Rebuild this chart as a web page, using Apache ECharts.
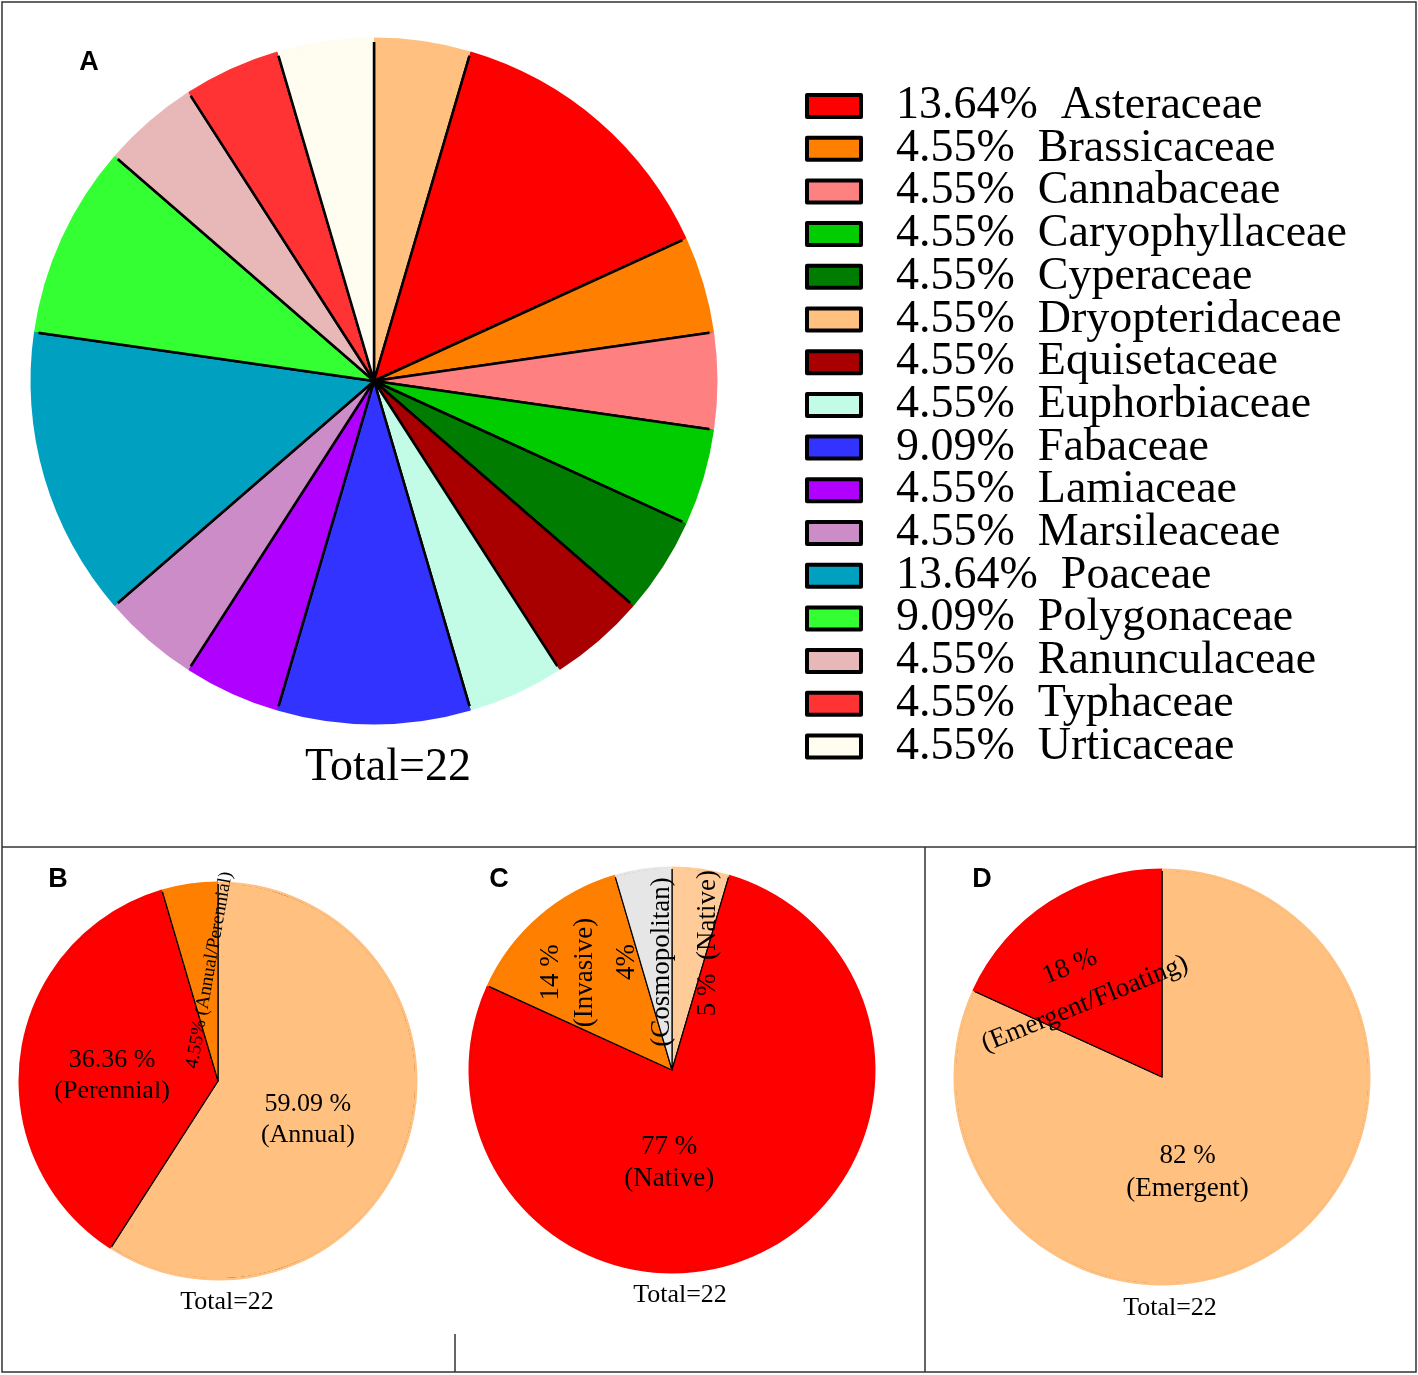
<!DOCTYPE html>
<html>
<head>
<meta charset="utf-8">
<script src="https://cdn.jsdelivr.net/npm/echarts@6.0.0/dist/echarts.min.js"></script>
<style>
  html, body { margin: 0; padding: 0; background: #fff; }
  #main { width: 1418px; height: 1375px; }
</style>
</head>
<body>
<div id="main"></div>
<script>
// A - families, in pie order (clockwise from 12 o'clock)
var familyNames = ['Dryopteridaceae', 'Asteraceae', 'Brassicaceae', 'Cannabaceae', 'Caryophyllaceae',
  'Cyperaceae', 'Equisetaceae', 'Euphorbiaceae', 'Fabaceae', 'Lamiaceae', 'Marsileaceae',
  'Poaceae', 'Polygonaceae', 'Ranunculaceae', 'Typhaceae', 'Urticaceae'];
var familyCounts = [1, 3, 1, 1, 1, 1, 1, 1, 2, 1, 1, 3, 2, 1, 1, 1];
var familyColors = ['#ffc080', '#ff0000', '#ff8000', '#ff8080', '#00cc00',
  '#007c00', '#a80000', '#c2fbe6', '#3333ff', '#b000ff', '#cc8cc8',
  '#00a0c0', '#33ff33', '#e8b8b8', '#ff3333', '#fffdf0'];
// legend is alphabetical
var legendOrder = ['Asteraceae', 'Brassicaceae', 'Cannabaceae', 'Caryophyllaceae', 'Cyperaceae',
  'Dryopteridaceae', 'Equisetaceae', 'Euphorbiaceae', 'Fabaceae', 'Lamiaceae', 'Marsileaceae',
  'Poaceae', 'Polygonaceae', 'Ranunculaceae', 'Typhaceae', 'Urticaceae'];

// B - life span
var lifeNames = ['Annual', 'Perennial', 'Annual/Perennial'];
var lifeCounts = [13, 8, 1];
var lifeLabels = ['59.09 %\n(Annual)', '36.36 %\n(Perennial)', '4.55% (Annual/Perennial)'];
var lifeColors = ['#ffc080', '#ff0000', '#ff8000'];

// C - origin
var originNames = ['Native (5%)', 'Native', 'Invasive', 'Cosmopolitan'];
var originCounts = [1, 17, 3, 1];
var originLabels = ['5 %  (Native)', '77 %\n(Native)', '14 %\n(Invasive)', '4%\n(Cosmopolitan)'];
var originColors = ['#ffcc99', '#ff0000', '#ff8000', '#e6e6e6'];

// D - habit
var habitNames = ['Emergent', 'Emergent/Floating'];
var habitCounts = [18, 4];
var habitLabels = ['82 %\n(Emergent)', '18 %\n(Emergent/Floating)'];
var habitColors = ['#ffc080', '#ff0000'];

var SERIF = '"Liberation Serif", "Times New Roman", serif';
var SANS = '"Liberation Sans", Arial, sans-serif';

// label tweaks: rotation, font, on-screen shift from the default inside position
var lifeLabelStyle = [
  { rotate: 0, size: 26, lh: 31, dx: -8, dy: 10 },
  { rotate: 0, size: 26, lh: 31, dx: -5, dy: 9 },
  { rotate: 80, size: 19, lh: 20, dx: 6, dy: -10 }
];
var originLabelStyle = [
  { rotate: 90, size: 27, lh: 32, dx: 21, dy: -24 },
  { rotate: 0, size: 27, lh: 32, dx: -46, dy: -2 },
  { rotate: 90, size: 27, lh: 34, dx: -36, dy: -19 },
  { rotate: 90, size: 27, lh: 35, dx: -13, dy: -5 }
];
var habitLabelStyle = [
  { rotate: 0, size: 27, lh: 33, dx: -32, dy: 6 },
  { rotate: 22, size: 27, lh: 40, dx: -27, dy: -2 }
];

function total(arr) {
  return arr.reduce(function (a, b) { return a + b; }, 0);
}

function pieSeries(names, counts, colors, center, radius, border, labels, labelStyle) {
  var data = names.map(function (n, i) {
    var item = { name: n, value: counts[i], itemStyle: { color: colors[i] } };
    if (labels) {
      var s = labelStyle[i];
      item.label = { formatter: labels[i], rotate: s.rotate, fontSize: s.size, lineHeight: s.lh };
    }
    return item;
  });
  return {
    type: 'pie',
    center: center,
    radius: radius,
    startAngle: 90,
    clockwise: true,
    avoidLabelOverlap: false,
    silent: true,
    z: 2,
    itemStyle: { borderColor: '#000', borderWidth: border },
    label: {
      show: !!labels,
      position: 'inside',
      color: '#000',
      fontFamily: SERIF
    },
    labelLine: { show: false },
    // dx/dy act in the label's rotated frame, so turn the screen shift into it
    labelLayout: labels ? function (p) {
      var s = labelStyle[p.dataIndex];
      var a = s.rotate * Math.PI / 180;
      return {
        dx: s.dx * Math.cos(a) - s.dy * Math.sin(a),
        dy: s.dx * Math.sin(a) + s.dy * Math.cos(a)
      };
    } : undefined,
    emphasis: { disabled: true },
    data: data
  };
}

// thin ring with no border laid over the rim, so only the radial edges stay black
function rimSeries(names, counts, colors, center, radius, w) {
  return {
    type: 'pie',
    center: center,
    radius: [radius - w, radius + w + 0.5],
    startAngle: 90,
    clockwise: true,
    silent: true,
    z: 2,
    label: { show: false },
    labelLine: { show: false },
    emphasis: { disabled: true },
    data: names.map(function (n, i) {
      return { name: n, value: counts[i], itemStyle: { color: colors[i] } };
    })
  };
}

var familyTotal = total(familyCounts);
var lineStyle = { stroke: '#333', lineWidth: 1.5 };

function txt(x, y, text, font) {
  return {
    type: 'text', x: x, y: y, z: 10,
    style: { text: text, font: font, fill: '#000', textAlign: 'center', textVerticalAlign: 'middle', align: 'center', verticalAlign: 'middle' }
  };
}

var chart = echarts.init(document.getElementById('main'));
var option = {
  animation: false,
  backgroundColor: '#fff',
  legend: {
    data: legendOrder,
    orient: 'vertical',
    left: 805,
    top: 83,
    padding: 0,
    icon: 'rect',
    itemWidth: 54,
    itemHeight: 22,
    itemGap: -3.3,
    selectedMode: false,
    itemStyle: { borderColor: '#000', borderWidth: 4 },
    formatter: function (name) {
      var i = familyNames.indexOf(name);
      return (familyCounts[i] / familyTotal * 100).toFixed(2) + '%  ' + name;
    },
    textStyle: {
      fontFamily: SERIF,
      fontSize: 46,
      color: '#000',
      padding: [0, 0, 0, 30]
    }
  },
  graphic: [
    { type: 'rect', shape: { x: 2, y: 2, width: 1414, height: 1370 }, style: { fill: 'none', stroke: '#333', lineWidth: 1.5 } },
    { type: 'line', shape: { x1: 2, y1: 847, x2: 1416, y2: 847 }, style: lineStyle },
    { type: 'line', shape: { x1: 925, y1: 847, x2: 925, y2: 1372 }, style: lineStyle },
    { type: 'line', shape: { x1: 455, y1: 1334, x2: 455, y2: 1372 }, style: lineStyle },
    txt(89, 63, 'A', 'bold 27px ' + SANS),
    txt(58, 880, 'B', 'bold 27px ' + SANS),
    txt(499, 880, 'C', 'bold 27px ' + SANS),
    txt(982, 880, 'D', 'bold 27px ' + SANS),
    txt(388, 768, 'Total=' + familyTotal, '46px ' + SERIF),
    txt(227, 1302, 'Total=' + total(lifeCounts), '26px ' + SERIF),
    txt(680, 1295, 'Total=' + total(originCounts), '26px ' + SERIF),
    txt(1170, 1308, 'Total=' + total(habitCounts), '26px ' + SERIF)
  ],
  series: [
    pieSeries(familyNames, familyCounts, familyColors, [374, 381], 341, 2.5),
    rimSeries(familyNames, familyCounts, familyColors, [374, 381], 341, 2),
    pieSeries(lifeNames, lifeCounts, lifeColors, [218, 1081], 198, 1.2, lifeLabels, lifeLabelStyle),
    rimSeries(lifeNames, lifeCounts, lifeColors, [218, 1081], 198, 1),
    pieSeries(originNames, originCounts, originColors, [672, 1070], 202, 1.2, originLabels, originLabelStyle),
    rimSeries(originNames, originCounts, originColors, [672, 1070], 202, 1),
    pieSeries(habitNames, habitCounts, habitColors, [1162, 1077], 207, 1.2, habitLabels, habitLabelStyle),
    rimSeries(habitNames, habitCounts, habitColors, [1162, 1077], 207, 1)
  ]
};
chart.setOption(option);
</script>
</body>
</html>
